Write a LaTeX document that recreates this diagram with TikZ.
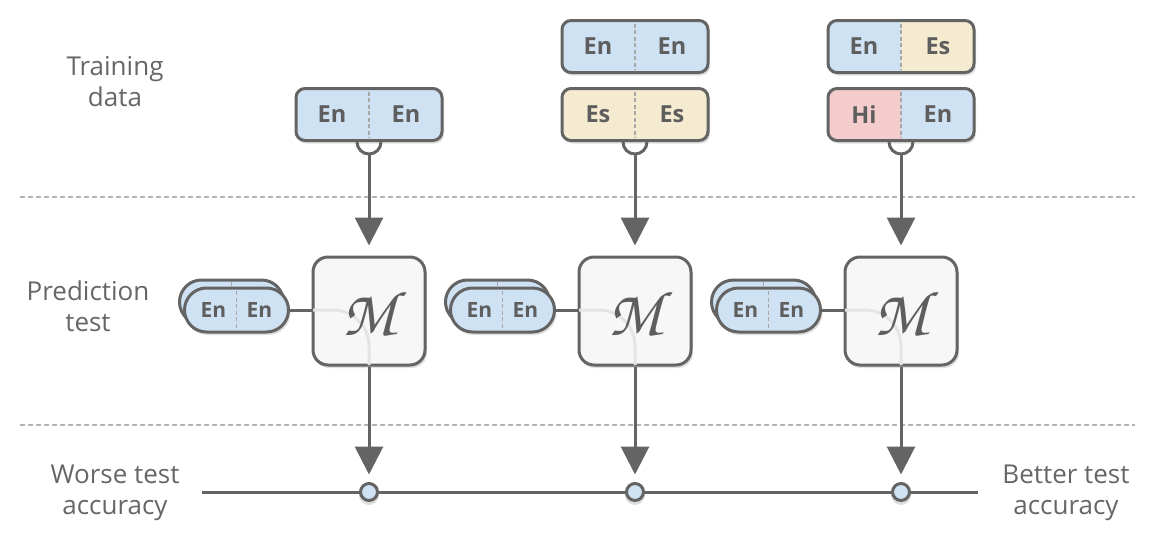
\documentclass[tikz,border=0pt]{standalone}
\usepackage[T1]{fontenc}
\usepackage{fontspec}
\setmainfont{Open Sans}
\usetikzlibrary{arrows.meta,calc}
\definecolor{edge}{HTML}{646464}
\definecolor{lbl}{HTML}{666666}
\definecolor{sepc}{HTML}{B4B4B4}
\definecolor{cblue}{HTML}{CFE2F3}
\definecolor{cyel}{HTML}{F5EBD0}
\definecolor{cpink}{HTML}{F4CCCC}
\definecolor{mfill}{HTML}{F7F7F7}
\definecolor{faintc}{HTML}{E4E4E4}
\definecolor{divc}{HTML}{A8A8A8}
\definecolor{txtc}{HTML}{5E5E5E}

% data box: name, x, y, left colour, right colour, left text, right text
\newcommand{\databox}[7]{%
  \begin{scope}[shift={(#2,#3)}]
    \fill[shadowc, rounded corners=9pt] (-72,-23) rectangle (75,29);
    \begin{scope}
      \clip[rounded corners=9pt] (-73,-26) rectangle (73,26);
      \fill[#4] (-73,-26) rectangle (0,26);
      \fill[#5] (0,-26) rectangle (73,26);
    \end{scope}
    \draw[divider] (0,-23) -- (0,23);
    \node[dbox] (#1) at (0,0) {};
    \node[entext] (#1-l) at (-37,0) {#6};
    \node[entext] (#1-r) at (37,0) {#7};
  \end{scope}}

% test pill: name, x, y
\newcommand{\testpill}[3]{%
  \begin{scope}[shift={(#2,#3)}]
    \node[pill] (#1-back) at (-5,-8) {};
    \draw[divider] (-5,-28) -- (-5,-21);
    \fill[shadowc, rounded corners=22pt] (-51,-19) rectangle (54,25);
    \node[pill] (#1) at (0,0) {};
    \draw[divider] (0,-19) -- (0,19);
    \node[pilltext] (#1-l) at (-23,0) {En};
    \node[pilltext] (#1-r) at (23,0) {En};
  \end{scope}}

% model box: name, x, y
\newcommand{\modelbox}[3]{%
  \fill[shadowc, rounded corners=15pt] (#2-55,#3-51) rectangle (#2+58,#3+57);
  \node[mbox] (#1) at (#2,#3) {};}

\begin{document}
\begin{tikzpicture}[x=1pt,y=-1pt,
  shadowc/.style={fill=black, opacity=0.12},
  sepline/.style={sepc, line width=1.3pt, dash pattern=on 5pt off 3pt},
  lbltext/.style={text=lbl, font=\fontsize{26}{31}\selectfont, align=center, inner sep=0pt},
  entext/.style={text=txtc, font=\fontsize{23.5}{23.5}\selectfont\bfseries, inner sep=0pt},
  pilltext/.style={text=txtc, font=\fontsize{21}{21}\selectfont\bfseries, inner sep=0pt},
  dbox/.style={draw=edge, line width=3pt, rounded corners=9pt, minimum width=146pt, minimum height=52pt, inner sep=0pt},
  pill/.style={draw=edge, fill=cblue, line width=3pt, rounded corners=22pt, minimum width=104pt, minimum height=44pt, inner sep=0pt},
  divider/.style={divc, line width=1.3pt, dash pattern=on 4pt off 2.5pt},
  conn/.style={draw=edge, line width=3pt},
  arr/.style={conn, -{Triangle[length=28pt,width=28pt]}},
  mbox/.style={draw=edge, fill=mfill, line width=3pt, rounded corners=15pt, minimum width=112pt, minimum height=108pt, inner sep=0pt},
  mtext/.style={text=txtc, font=\fontsize{64}{64}\usefont{T1}{pzc}{mb}{it}, inner sep=0pt},
  faint/.style={faintc, line width=3pt, rounded corners=36pt},
  dot/.style={circle, draw=edge, fill=cblue, line width=3pt, minimum size=17pt, inner sep=0pt},
]
\useasboundingbox (0,0) rectangle (1152,549);

% separators
\coordinate (sepA1) at (20,197);
\coordinate (sepA2) at (1135,197);
\coordinate (sepB1) at (20,425);
\coordinate (sepB2) at (1135,425);
\draw[sepline] (sepA1) -- (sepA2);
\draw[sepline] (sepB1) -- (sepB2);

% row labels
\node[lbltext] (ltrain) at (115,82) {Training\\data};
\node[lbltext] (lpred) at (88,306) {Prediction\\test};
\node[lbltext] (lworse) at (115,493) {Worse test\\accuracy};
\node[lbltext] (lbetter) at (1066,493) {Better test\\accuracy};

% training data
\databox{t1}{369}{114.5}{cblue}{cblue}{En}{En}
\databox{t2a}{635}{46.5}{cblue}{cblue}{En}{En}
\databox{t2}{635}{114.5}{cyel}{cyel}{Es}{Es}
\databox{t3a}{901}{46.5}{cblue}{cyel}{En}{Es}
\databox{t3}{901}{114.5}{cpink}{cblue}{Hi}{En}

% models
\modelbox{m1}{369}{311}
\modelbox{m2}{635}{311}
\modelbox{m3}{901}{311}

% test pills
\testpill{p1}{236.5}{310}
\testpill{p2}{502.5}{310}
\testpill{p3}{768.5}{310}

% accuracy axis
\coordinate (axL) at (202,492);
\coordinate (axR) at (978,492);
\draw[conn] (axL) -- (axR);
\foreach \i/\x in {1/369,2/635,3/901}{
  \fill[shadowc] (\x,495) circle[radius=10pt];
  \node[dot] (c\i) at (\x,492) {};
}

% connectors per column
\foreach \i in {1,2,3}{
  % faint internal path
  \draw[faint] ([xshift=1.5pt]p\i.east -| m\i.west) -| ([yshift=1.5pt]m\i.south);
  \node[mtext] (mt\i) at ([yshift=-2pt]m\i.center) {M};
  % pill to model
  \draw[conn] (p\i.east) -- (p\i.east -| m\i.west);
  % training hook
  \draw[conn, rounded corners=12pt] ([xshift=-12pt]t\i.south) -- ++(0,12) -- ++(24,0) -- ++(0,-12);
  \coordinate (h\i) at ([yshift=-12pt]t\i.south);
  \draw[arr, shorten >=10pt] (h\i) -- (m\i.north);
  % model to accuracy
  \draw[arr, shorten >=7.5pt] (m\i.south) -- (c\i.north);
}
\end{tikzpicture}
\end{document}
